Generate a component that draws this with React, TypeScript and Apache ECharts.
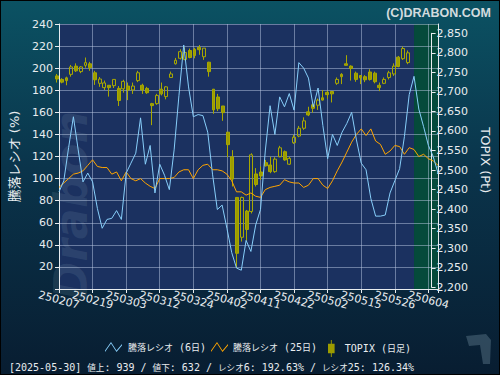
import React, { useEffect, useRef } from 'react';
import * as echarts from 'echarts';

// ---- data ----
const dates = [
  '250207','250210','250212','250213','250214','250217','250218','250219','250220','250221','250225','250226','250227','250228',
  '250303','250304','250305','250306','250307','250310','250311','250312','250313','250314','250317','250318','250319','250321','250324','250325','250326','250327','250328','250331',
  '250401','250402','250403','250404','250407','250408','250409','250410','250411','250414','250415','250416','250417','250418','250421','250422','250423','250424','250425','250428','250430',
  '250501','250502','250507','250508','250509','250512','250513','250514','250515','250516','250519','250520','250521','250522','250523','250526','250527','250528','250529','250530',
  '250602','250603','250604','250605','250606'
];

const ratio6 = [
  88, 98, 128, 156, 126, 97, 105, 97, 73, 55, 63, 64, 71, 63, 105, 114, 123, 155, 113, 130,
  87, 113, 103, 90, 126, 175, 221, 183, 156, 158, 157, 142, 104, 72, 76, 55, 33, 19, 17, 44,
  34, 58, 72, 125, 166, 140, 174, 165, 177, 162, 205, 200, 191, 165, 182, 148, 118, 140, 130, 142,
  150, 160, 135, 114, 108, 82, 66, 66, 67, 87, 98, 109, 138, 176, 192.63, 163, 147, 130, 120, 105
];

const ratio25 = [
  92, 96, 100, 104, 105, 107, 112, 117, 111, 110, 110, 104, 106, 98, 106, 100, 98, 100, 96, 93,
  91, 100, 100, 100, 101, 106, 108, 108, 100, 108, 112, 113, 108, 108, 107, 104, 98, 88, 88, 85,
  87, 84, 83, 90, 92, 93, 94, 99, 97, 96, 96, 92, 94, 100, 100, 94, 91, 98, 107, 115,
  124, 133, 140, 145, 139, 145, 134, 131, 122, 125, 130, 129, 122, 128, 126.34, 120, 122, 118, 116, 112
];

// TOPIX daily candles: [open, close, low, high]
const topix = [
  [2741, 2733, 2724, 2746], [2732, 2725, 2722, 2735], [2736, 2729, 2717, 2739], [2745, 2764, 2739, 2769],
  [2766, 2754, 2751, 2773], [2752, 2764, 2748, 2766], [2768, 2775, 2762, 2788], [2772, 2762, 2754, 2777],
  [2749, 2731, 2718, 2754], [2722, 2733, 2713, 2738], [2711, 2723, 2705, 2729], [2717, 2711, 2688, 2717],
  [2716, 2732, 2710, 2732], [2709, 2678, 2664, 2715], [2708, 2727, 2698, 2731], [2715, 2705, 2679, 2724],
  [2705, 2715, 2695, 2724], [2729, 2749, 2725, 2754], [2717, 2705, 2695, 2721], [2709, 2698, 2695, 2713],
  [2670, 2665, 2615, 2672], [2670, 2691, 2667, 2695], [2707, 2695, 2691, 2724], [2688, 2713, 2681, 2715],
  [2737, 2746, 2736, 2752], [2772, 2781, 2770, 2787], [2786, 2803, 2783, 2809], [2783, 2801, 2781, 2814],
  [2806, 2788, 2786, 2811], [2809, 2793, 2786, 2813], [2814, 2808, 2795, 2820], [2790, 2812, 2782, 2812],
  [2776, 2752, 2739, 2777], [2707, 2654, 2644, 2707], [2687, 2657, 2651, 2695], [2664, 2647, 2626, 2664],
  [2597, 2565, 2533, 2597], [2534, 2477, 2458, 2551], [2430, 2287, 2249, 2430], [2328, 2430, 2317, 2432],
  [2395, 2348, 2319, 2398], [2394, 2539, 2389, 2543], [2490, 2463, 2458, 2505], [2495, 2485, 2475, 2509],
  [2519, 2511, 2509, 2526], [2513, 2496, 2492, 2534], [2496, 2528, 2493, 2533], [2534, 2557, 2533, 2562],
  [2547, 2526, 2524, 2550], [2515, 2530, 2513, 2534], [2570, 2584, 2567, 2590], [2587, 2607, 2584, 2613],
  [2607, 2626, 2603, 2635], [2649, 2641, 2638, 2662], [2667, 2658, 2647, 2671], [2666, 2679, 2654, 2683],
  [2685, 2679, 2678, 2705], [2699, 2693, 2683, 2703], [2701, 2695, 2673, 2701], [2722, 2732, 2718, 2737],
  [2745, 2739, 2720, 2748], [2772, 2768, 2768, 2794], [2766, 2760, 2729, 2768], [2748, 2732, 2726, 2752],
  [2742, 2736, 2720, 2742], [2739, 2731, 2725, 2743], [2751, 2732, 2729, 2758], [2748, 2726, 2722, 2752],
  [2717, 2711, 2702, 2724], [2722, 2732, 2720, 2737], [2737, 2749, 2732, 2754], [2746, 2766, 2741, 2773],
  [2789, 2765, 2763, 2792], [2785, 2811, 2782, 2816], [2775, 2800, 2771, 2806]
];

const advances = 939;
const declines = 632;

const S6 = '騰落レシオ (6日)';
const S25 = '騰落レシオ (25日)';
const ST = 'TOPIX (日足)';

const FONT = "'DejaVu Sans', 'Noto Sans CJK JP', sans-serif";
const TXT = '#e8ecef';
const LABEL_STEP = 7;

// split text into latin / CJK runs for rich text
const toRich = (s: string) =>
  s.replace(/([\u3000-\u9fff\uff00-\uffef]+)|([^\u3000-\u9fff\uff00-\uffef]+)/g, (_m: string, j: string, a: string) =>
    j ? `{j|${j}}` : `{a|${a}}`
  );

const richStyles = (latin: number, cjk: number) => ({
  a: { fontFamily: "'DejaVu Sans Mono', monospace", fontSize: latin, color: TXT },
  j: { fontFamily: "'Noto Sans CJK JP', sans-serif", fontSize: cjk, color: TXT },
});

export default function App() {
  const ref = useRef<HTMLDivElement>(null);
  useEffect(() => {
    const chart = echarts.init(ref.current!, undefined, { renderer: 'svg' });
    const lastIdx = topix.length - 1;
    const d = dates[lastIdx];
    const header = `[20${d.slice(0, 2)}-${d.slice(2, 4)}-${d.slice(4, 6)}] 値上: ${advances} / 値下: ${declines} / レシオ6: ${ratio6[lastIdx].toFixed(2)}% / レシオ25: ${ratio25[lastIdx].toFixed(2)}%`;
    const gridLine = { color: 'rgba(185,200,225,0.5)', width: 1 };
    const zig = 'path://M0,8.6 L6,0 L11.5,8.4 L17,2 L17,3.6 L11.5,10 L6,1.6 L0,10 Z';
    const candleIcon = 'path://M3,0 L4,0 L4,4 L7,4 L7,14 L4,14 L4,18 L3,18 L3,14 L0,14 L0,4 L3,4 Z';
    const legendText = (pad: number) => ({ color: TXT, padding: [0, 0, 0, pad], rich: richStyles(10, 9) });

    const option: any = {
      animation: false,
      backgroundColor: new echarts.graphic.LinearGradient(0, 0, 0, 1, [
        { offset: 0, color: '#0b5263' },
        { offset: 0.45, color: '#0a344b' },
        { offset: 1, color: '#081d31' },
      ]),
      textStyle: { fontFamily: FONT },
      title: [
        {
          text: '(C)DRABON.COM', right: 4, top: 1,
          textStyle: { color: '#d3dbde', fontSize: 12.5, fontWeight: 'bold', fontFamily: "'Liberation Sans', sans-serif" },
        },
        {
          text: toRich(header), left: 4, top: 357,
          textStyle: { color: TXT, fontWeight: 'normal', rich: richStyles(10, 8.6) },
        },
      ],
      graphic: [
        { type: 'rect', shape: { x: 0, y: 0, width: 500, height: 375 }, style: { fill: 'none', stroke: '#000', lineWidth: 2 }, silent: true },
        {
          type: 'text', x: 48, y: 300, rotation: Math.PI / 2, silent: true,
          style: { text: 'Drabon', font: "italic bold 46px 'DejaVu Sans'", fill: 'rgba(130,160,180,0.16)' },
        },
        {
          type: 'polygon', silent: true,
          shape: { points: [[466, 336], [486, 334], [491, 340], [490, 364], [483, 364], [480, 345], [469, 346]] },
          style: { fill: 'rgba(120,150,165,0.35)' },
        },
      ],
      legend: [
        {
          data: [S6], left: 100, top: 337, icon: zig, itemWidth: 17, itemHeight: 10,
          itemStyle: { color: '#87cefa', borderWidth: 0 },
          formatter: (n: string) => toRich(n), textStyle: legendText(1),
        },
        {
          data: [S25], left: 206, top: 337, icon: zig, itemWidth: 17, itemHeight: 10,
          itemStyle: { color: '#ffa500', borderWidth: 0 },
          formatter: (n: string) => toRich(n), textStyle: legendText(0),
        },
        {
          data: [ST], left: 323, top: 335, icon: candleIcon, itemWidth: 7, itemHeight: 17,
          itemStyle: { color: '#9c9c00', borderWidth: 0 },
          formatter: (n: string) => toRich(n), textStyle: legendText(5),
        },
      ],
      grid: [
        { left: 57, right: 62, top: 24, bottom: 86, show: true, backgroundColor: '#1b3160', borderWidth: 0, z: 0 },
        { left: 57, right: 62, top: 33.3, bottom: 87.7, z: 0 },
      ],
      xAxis: [
        {
          type: 'category', gridIndex: 0, data: dates, boundaryGap: false, z: 3,
          axisLine: { lineStyle: { color: TXT, width: 1 } },
          axisTick: { show: true, interval: LABEL_STEP - 1, length: 4, lineStyle: { color: TXT } },
          axisLabel: {
            interval: 0, rotate: -15, align: 'center', verticalAlign: 'middle', margin: 11,
            color: TXT, fontSize: 11,
            formatter: (v: string, i: number) => (i % LABEL_STEP === 0 ? v : ''),
          },
          splitLine: { show: true, interval: LABEL_STEP - 1, lineStyle: gridLine },
        },
        { type: 'category', gridIndex: 1, data: dates, boundaryGap: false, show: false },
      ],
      yAxis: [
        {
          type: 'value', gridIndex: 0, min: 0, max: 240, interval: 20, position: 'left', z: 3,
          name: '騰落レシオ (%)', nameLocation: 'middle', nameGap: 38,
          nameTextStyle: { color: TXT, fontSize: 13 },
          axisLine: { show: true, lineStyle: { color: TXT } },
          axisTick: { show: true, length: 4, lineStyle: { color: TXT } },
          axisLabel: { color: TXT, fontSize: 11, margin: 6, formatter: (v: number) => (v === 0 ? '' : String(v)) },
          splitLine: { show: true, lineStyle: gridLine },
        },
        {
          type: 'value', gridIndex: 1, min: 2200, max: 2850, interval: 50, position: 'right', z: 3,
          name: 'TOPIX (Pt)', nameLocation: 'middle', nameRotate: -90, nameGap: 46,
          nameTextStyle: { color: TXT, fontSize: 13 },
          axisLine: { show: true, lineStyle: { color: TXT } },
          axisTick: { show: true, length: 4, lineStyle: { color: TXT } },
          axisLabel: { color: TXT, fontSize: 11, margin: 5, formatter: (v: number) => v.toLocaleString('en-US') },
          splitLine: { show: false },
        },
        {
          type: 'value', gridIndex: 0, min: 0, max: 240, position: 'right', z: 3,
          axisLine: { show: true, lineStyle: { color: TXT } },
          axisTick: { show: false }, axisLabel: { show: false }, splitLine: { show: false },
        },
      ],
      series: [
        {
          name: 'future', type: 'line', xAxisIndex: 0, yAxisIndex: 0, silent: true, z: 1,
          data: dates.map(() => null), showSymbol: false,
          markArea: {
            silent: true, z: 1,
            itemStyle: { color: '#054a3b' },
            data: [[{ xAxis: dates[lastIdx] }, { xAxis: dates[dates.length - 1] }]],
          },
        },
        {
          name: ST, type: 'candlestick', xAxisIndex: 1, yAxisIndex: 1, z: 4, barWidth: 3.4, clip: false,
          data: topix,
          itemStyle: {
            color: 'rgba(0,0,0,0)', color0: '#9c9c00',
            borderColor: '#a8a800', borderColor0: '#a8a800', borderWidth: 1,
          },
        },
        {
          name: S25, type: 'line', xAxisIndex: 0, yAxisIndex: 0, z: 5, data: ratio25,
          showSymbol: false, lineStyle: { color: '#ffa500', width: 1 }, itemStyle: { color: '#ffa500' },
        },
        {
          name: S6, type: 'line', xAxisIndex: 0, yAxisIndex: 0, z: 6, data: ratio6,
          showSymbol: false, lineStyle: { color: '#87cefa', width: 1 }, itemStyle: { color: '#87cefa' },
        },
      ],
    };
    chart.setOption(option);
    return () => chart.dispose();
  }, []);
  return <div ref={ref} style={{ position: 'fixed', left: 0, top: 0, width: 500, height: 375 }} />;
}
